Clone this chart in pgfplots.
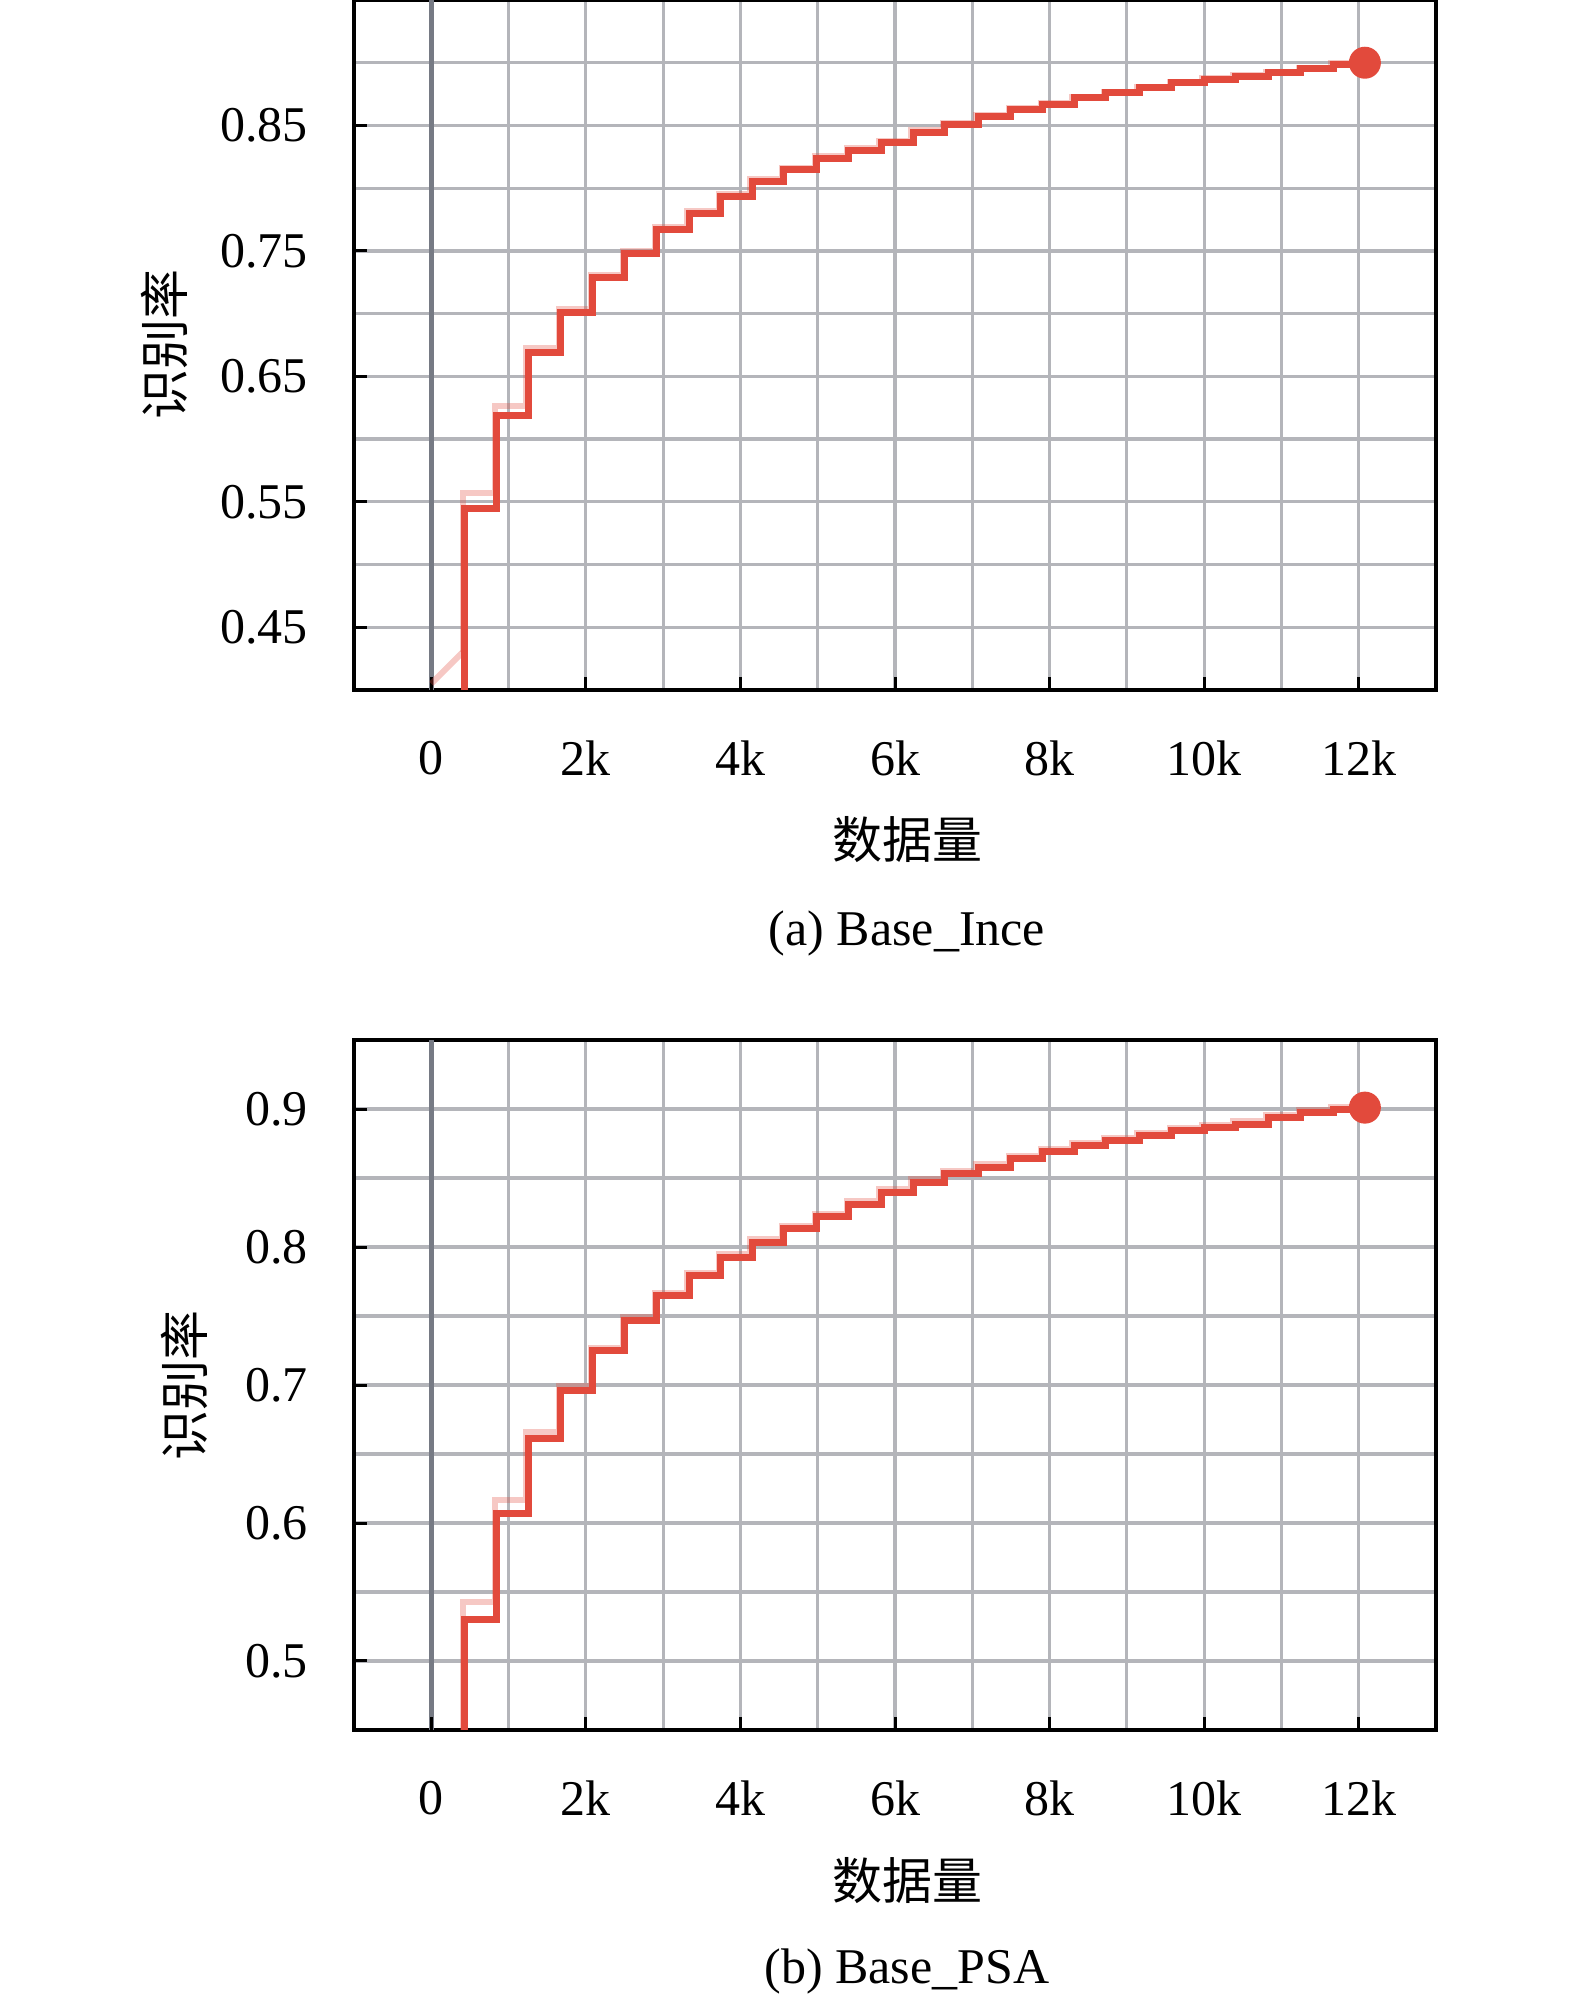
\documentclass[border=0pt]{standalone}
\usepackage{fontspec}
\setmainfont{Liberation Serif}
\newfontfamily\cjk{Noto Sans CJK SC}
\usepackage{pgfplots}
\pgfplotsset{compat=1.18}
\definecolor{mainred}{RGB}{226,74,60}
\definecolor{gridgray}{RGB}{180,181,186}
\definecolor{zerogray}{RGB}{118,122,132}
\pgfplotsset{
  myaxis/.style={
    scale only axis, width=216.4pt, height=138pt,
    xmin=-1000, xmax=13000,
    scaled x ticks=false,
    xtick={0,2000,4000,6000,8000,10000,12000},
    xticklabels={0,2k,4k,6k,8k,10k,12k},
    minor xtick={1000,3000,5000,7000,9000,11000},
    grid=both,
    major grid style={gridgray, line width=0.65pt},
    minor grid style={gridgray, line width=0.65pt},
    tick pos=left, tick align=inside,
    major tick length=2.6pt, minor tick length=0pt,
    tick style={black, line width=0.6pt},
    axis line style={black, line width=0.65pt},
    xticklabel style={anchor=center, inner sep=0pt, yshift=-13.6pt},
    yticklabel style={anchor=east, inner sep=0pt, xshift=-9pt},
    extra x ticks={0}, extra x tick labels={},
    extra x tick style={grid=major, major grid style={zerogray, line width=0.9pt}},
  },
  mainline/.style={mainred, line width=1.4pt, const plot, line join=miter},
  paleline/.style={mainred, opacity=0.3, line width=1.2pt},
  endmark/.style={only marks, mark=*, mark size=3pt, mark options={draw=mainred, fill=mainred}},
}
\begin{document}
\begin{tikzpicture}
\useasboundingbox (-70.8pt,-55.2pt) rectangle (244.2pt,346pt);
% ---------------- (a) Base_Ince
\begin{axis}[myaxis, name=ax1, at={(0pt,208pt)}, anchor=south west,
  ymin=0.40, ymax=0.95,
  ytick={0.45,0.55,0.65,0.75,0.85}, yticklabels={0.45,0.55,0.65,0.75,0.85},
  minor ytick={0.5,0.6,0.7,0.8,0.9}]
\addplot[paleline] coordinates {(0,0.405) (405,0.43)};
\addplot[paleline, const plot] coordinates {
(405,0.43)(405,0.557)(821,0.626)(1229,0.673)(1650,0.704)(2065,0.731)(2475,0.750)
(2895,0.769)(3315,0.782)(3720,0.795)(4130,0.807)(4535,0.816)(4965,0.8255)(5375,0.832)
(5795,0.838)(6212,0.846)(6620,0.852)(7050,0.858)(7475,0.864)(7885,0.868)(8295,0.873)
(8705,0.877)(9135,0.881)(9555,0.885)(9975,0.888)(10375,0.890)(10805,0.893)(11225,0.896)
(11645,0.8995)(12060,0.901)};
\addplot[mainline] coordinates {
(430,0.30)(430,0.545)(846,0.619)(1254,0.669)(1675,0.701)(2090,0.729)(2500,0.748)
(2920,0.767)(3340,0.780)(3745,0.793)(4155,0.805)(4560,0.8145)(4990,0.8238)(5400,0.8303)
(5820,0.8366)(6237,0.8445)(6645,0.851)(7075,0.857)(7500,0.863)(7910,0.867)(8320,0.872)
(8730,0.876)(9160,0.880)(9580,0.884)(10000,0.887)(10400,0.889)(10830,0.892)(11250,0.895)
(11670,0.8986)(12080,0.900)};
\addplot[endmark] coordinates {(12080,0.900)};
\end{axis}
\node[rotate=90, font=\cjk] at ([xshift=-38pt]ax1.west) {识别率};
\node[font=\cjk] at ([xshift=2.6pt, yshift=-30pt]ax1.south) {数据量};
\node at ([xshift=2.4pt, yshift=-48.6pt]ax1.south) {(a) Base\_Ince};
% ---------------- (b) Base_PSA
\begin{axis}[myaxis, name=ax2, at={(0pt,0pt)}, anchor=south west,
  ymin=0.45, ymax=0.95,
  ytick={0.5,0.6,0.7,0.8,0.9}, yticklabels={0.5,0.6,0.7,0.8,0.9},
  minor ytick={0.55,0.65,0.75,0.85}]
\addplot[paleline] coordinates {(0,0.405) (405,0.43)};
\addplot[paleline, const plot] coordinates {
(405,0.43)(405,0.543)(821,0.617)(1229,0.666)(1650,0.699)(2065,0.727)(2475,0.749)
(2895,0.767)(3315,0.7815)(3720,0.7947)(4130,0.8056)(4535,0.8153)(4965,0.8238)(5375,0.833)
(5795,0.8417)(6212,0.849)(6620,0.855)(7050,0.8598)(7475,0.8658)(7885,0.8711)(8295,0.8755)
(8705,0.879)(9135,0.8827)(9555,0.8863)(9975,0.8887)(10375,0.8911)(10805,0.896)(11225,0.8995)
(11645,0.9015)(12060,0.902)};
\addplot[mainline] coordinates {
(430,0.30)(430,0.530)(846,0.607)(1254,0.661)(1675,0.696)(2090,0.725)(2500,0.747)
(2920,0.765)(3340,0.7795)(3745,0.7927)(4155,0.8036)(4560,0.8133)(4990,0.8218)(5400,0.831)
(5820,0.8397)(6237,0.847)(6645,0.853)(7075,0.8578)(7500,0.8638)(7910,0.8691)(8320,0.8735)
(8730,0.877)(9160,0.8807)(9580,0.8843)(10000,0.8867)(10400,0.8891)(10830,0.894)(11250,0.8975)
(11670,0.8995)(12080,0.901)};
\addplot[endmark] coordinates {(12080,0.901)};
\end{axis}
\node[rotate=90, font=\cjk] at ([xshift=-34pt]ax2.west) {识别率};
\node[font=\cjk] at ([xshift=2.6pt, yshift=-30.2pt]ax2.south) {数据量};
\node at ([xshift=2.4pt, yshift=-48.2pt]ax2.south) {(b) Base\_PSA};
\end{tikzpicture}
\end{document}
